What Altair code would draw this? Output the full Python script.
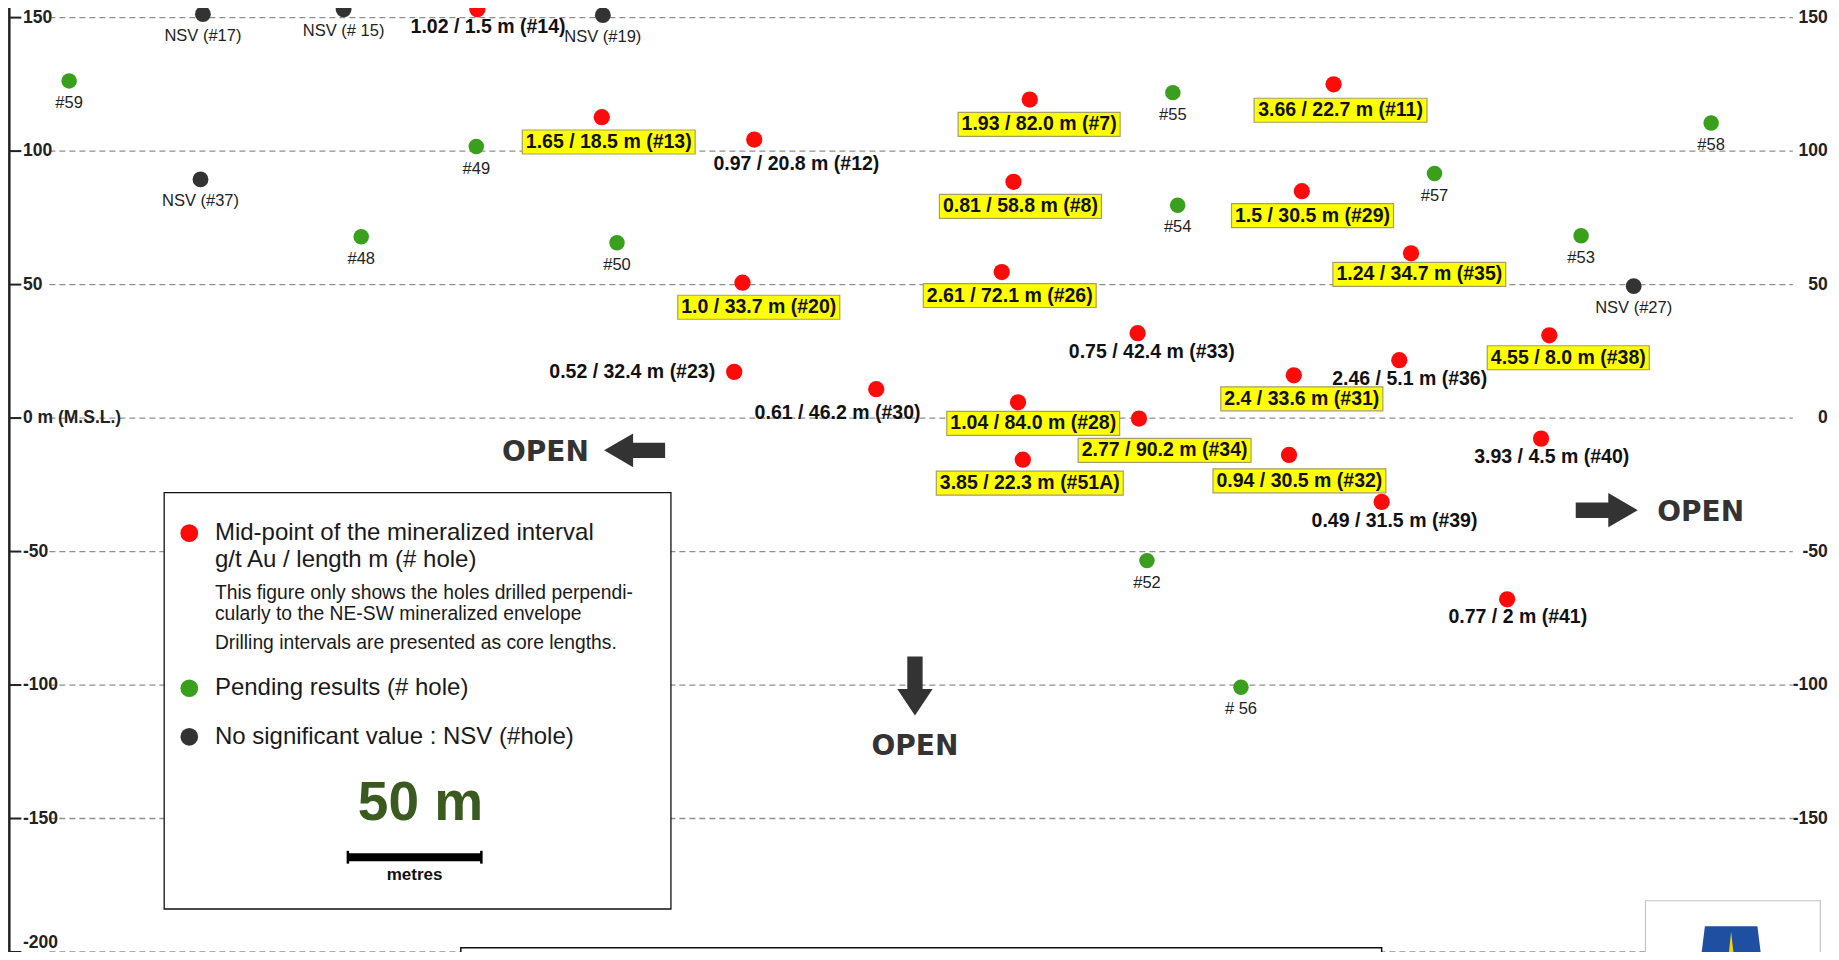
import altair as alt
import pandas as pd

# ---------------- values read from the section ----------------
# x: metres along the section (from the left axis), y: elevation in metres (M.S.L.)

nsv_labels = ["NSV (#17)", "NSV (# 15)", "NSV (#19)", "NSV (#37)", "NSV (#27)"]
nsv_x = [73.0, 125.7, 222.8, 72.1, 608.9]
nsv_y = [151.3, 153.1, 150.9, 89.4, 49.4]

pend_labels = ["#59", "#49", "#48", "#50", "#55", "#54", "#57", "#58", "#53", "#52", "# 56"]
pend_x = [22.9, 175.4, 132.3, 228.1, 436.3, 438.1, 534.3, 637.9, 589.2, 426.6, 461.8]
pend_y = [126.3, 101.7, 67.9, 65.7, 121.9, 79.7, 91.6, 110.5, 68.3, -53.4, -100.8]

min_labels = ["1.02 / 1.5 m (#14)", "1.65 / 18.5 m (#13)", "0.97 / 20.8 m (#12)",
              "1.93 / 82.0 m (#7)", "3.66 / 22.7 m (#11)", "0.81 / 58.8 m (#8)",
              "1.5 / 30.5 m (#29)", "1.0 / 33.7 m (#20)", "2.61 / 72.1 m (#26)",
              "1.24 / 34.7 m (#35)", "0.75 / 42.4 m (#33)", "0.52 / 32.4 m (#23)",
              "0.61 / 46.2 m (#30)", "1.04 / 84.0 m (#28)", "2.77 / 90.2 m (#34)",
              "2.4 / 33.6 m (#31)", "2.46 / 5.1 m (#36)", "4.55 / 8.0 m (#38)",
              "3.85 / 22.3 m (#51A)", "0.94 / 30.5 m (#32)", "3.93 / 4.5 m (#40)",
              "0.49 / 31.5 m (#39)", "0.77 / 2 m (#41)"]
min_x = [175.8, 222.4, 279.5, 382.7, 496.5, 376.6, 484.6, 275.1, 372.2, 525.5, 423.1,
         272.0, 325.2, 378.3, 423.6, 481.6, 521.1, 577.3, 380.1, 479.8, 574.2, 514.5, 561.5]
min_y = [153.1, 112.7, 104.3, 119.3, 125.0, 88.5, 85.0, 50.7, 54.7, 61.7, 31.8,
         17.3, 10.8, 5.9, -0.2, 16.0, 21.7, 31.0, -15.6, -13.8, -7.7, -31.4, -67.9]
lab_x = [179.8, 225.0, 295.3, 386.2, 499.1, 379.2, 488.6, 281.2, 375.2, 528.6, 428.4,
         233.8, 310.7, 384.0, 433.2, 484.6, 525.0, 584.4, 382.7, 483.7, 578.2, 519.3, 565.5]
lab_y = [146.5, 103.4, 95.1, 110.0, 115.3, 79.3, 75.8, 41.5, 45.9, 53.8, 24.8,
         17.3, 2.0, -2.0, -12.1, 7.2, 14.7, 22.6, -24.4, -23.5, -14.7, -38.5, -74.5]
boxed = [False, True, False, True, True, True, True, True, True, True, False,
         False, False, True, True, True, False, True, True, True, False, False, False]

tick_vals = [150, 100, 50, 0, -50, -100, -150, -200]
left_tick_labels = ["150", "100", "50", "0 m (M.S.L.)", "-50", "-100", "-150", "-200"]
right_tick_labels = ["150", "100", "50", "0", "-50", "-100", "-150", "-200"]

legend_lines_big = ["Mid-point of the mineralized interval", "g/t Au / length m (# hole)",
                    "Pending results (# hole)", "No significant value : NSV (#hole)"]
legend_lines_small = ["This figure only shows the holes drilled perpendi-",
                      "cularly to the NE-SW mineralized envelope",
                      "Drilling intervals are presented as core lengths."]
scale_bar_length = 50  # metres

# ---------------- layout ----------------
X_MAX = 682.8
Y_MIN, Y_MAX = -200.0, 153.6
W, H = 1823, 944
PX = W / X_MAX  # pixels per metre

xs = alt.Scale(domain=[0, X_MAX], nice=False, zero=False)
ys = alt.Scale(domain=[Y_MIN, Y_MAX], nice=False, zero=False)


def X(f):
    return alt.X(f, type="quantitative", scale=xs, axis=None)


def Y(f):
    return alt.Y(f, type="quantitative", scale=ys, axis=None)


FONT = "Liberation Sans"
RED, GREEN, DARK = "#ff0a0a", "#3a9f1c", "#333333"

BOLD_W = {c: 0.556 for c in "0123456789#"}
BOLD_W.update({".": 0.278, " ": 0.278, "/": 0.278, "m": 0.889, "(": 0.333, ")": 0.333, "A": 0.722})
LAB_SIZE = 19.5
AX_SIZE = 17.5


def text_w(s, size):
    return sum(BOLD_W.get(c, 0.6) for c in s) * size


layers = []

# grid lines
grid_df = pd.DataFrame({"v": tick_vals, "x0": 15.5, "x1": 668.5})
layers.append(alt.Chart(grid_df).mark_rule(color="#8f8f8f", strokeDash=[6, 4], strokeWidth=1.3)
              .encode(x=X("x0"), x2=alt.X2("x1"), y=Y("v")))

# left axis line + ticks + labels
axis_df = pd.DataFrame({"x": [0.5], "y0": [Y_MIN], "y1": [Y_MAX]})
layers.append(alt.Chart(axis_df).mark_rule(color="#222222", strokeWidth=2.5)
              .encode(x=X("x"), y=Y("y0"), y2=alt.Y2("y1")))
tick_df = pd.DataFrame({"v": tick_vals, "x0": 0.5, "x1": 5.0,
                        "lab": left_tick_labels, "rlab": right_tick_labels,
                        "lx": 5.6, "rx": 681.6})
layers.append(alt.Chart(tick_df).mark_rule(color="#222222", strokeWidth=2)
              .encode(x=X("x0"), x2=alt.X2("x1"), y=Y("v")))
tick_mid = tick_df[tick_df["v"] > Y_MIN]
tick_low = tick_df[tick_df["v"] <= Y_MIN]
for sub, base in ((tick_mid, "middle"), (tick_low, "bottom")):
    layers.append(alt.Chart(sub).mark_text(align="left", baseline=base, font=FONT,
                                           fontWeight="bold", fontSize=AX_SIZE, color="#222222")
                  .encode(x=X("lx"), y=Y("v"), text="lab:N"))
# right-hand labels (the lowest one is hidden behind the logo frame)
layers.append(alt.Chart(tick_mid).mark_text(align="right", baseline="middle", font=FONT,
                                            fontWeight="bold", fontSize=AX_SIZE, color="#222222")
              .encode(x=X("rx"), y=Y("v"), text="rlab:N"))

# bottom title frame and logo frame (cut by the bottom edge)
frame_df = pd.DataFrame({"x0": [169.6], "x1": [514.5], "y0": [-198.4], "y1": [-215.0]})
layers.append(alt.Chart(frame_df).mark_rect(fill="white", stroke="#111111", strokeWidth=1.5, clip=True)
              .encode(x=X("x0"), x2=alt.X2("x1"), y=Y("y0"), y2=alt.Y2("y1")))
logo_df = pd.DataFrame({"x0": [613.3], "x1": [678.8], "y0": [-180.8], "y1": [-215.0],
                        "cx": [645.4], "cy": [-203.5]})
layers.append(alt.Chart(logo_df).mark_rect(fill="white", stroke="#c4c4c4", strokeWidth=1.2, clip=True)
              .encode(x=X("x0"), x2=alt.X2("x1"), y=Y("y0"), y2=alt.Y2("y1")))
layers.append(alt.Chart(logo_df).mark_point(shape="M -0.75 -1 L 0.75 -1 L 1 1 L -1 1 Z", filled=True,
                                            size=4900, color="#1f4fa0", opacity=1, clip=True)
              .encode(x=X("cx"), y=Y("cy")))
layers.append(alt.Chart(logo_df).mark_point(shape="M 0 -0.85 L 0.2 1 L -0.2 1 Z", filled=True,
                                            size=4900, color="#f5d200", opacity=1, clip=True)
              .encode(x=X("cx"), y=Y("cy")))

# legend frame
leg_frame = pd.DataFrame({"x0": [58.5], "x1": [248.3], "y0": [-27.9], "y1": [-183.9]})
layers.append(alt.Chart(leg_frame).mark_rect(fill="white", stroke="#111111", strokeWidth=1.3)
              .encode(x=X("x0"), x2=alt.X2("x1"), y=Y("y0"), y2=alt.Y2("y1")))

leg_marks = pd.DataFrame({"x": [67.9, 67.9, 67.9], "y": [-43.1, -101.2, -119.4],
                          "c": [RED, GREEN, DARK]})
layers.append(alt.Chart(leg_marks).mark_circle(size=314, opacity=1)
              .encode(x=X("x"), y=Y("y"), color=alt.Color("c:N", scale=None)))
leg_big = pd.DataFrame({"t": legend_lines_big, "x": 77.5, "y": [-43.1, -53.2, -101.2, -119.4]})
layers.append(alt.Chart(leg_big).mark_text(align="left", baseline="middle", font=FONT,
                                           fontSize=24, color="#1a1a1a")
              .encode(x=X("x"), y=Y("y"), text="t:N"))
leg_small = pd.DataFrame({"t": legend_lines_small, "x": 77.5, "y": [-65.6, -73.4, -84.4]})
layers.append(alt.Chart(leg_small).mark_text(align="left", baseline="middle", font=FONT,
                                             fontSize=19.3, color="#1a1a1a")
              .encode(x=X("x"), y=Y("y"), text="t:N"))
scale_df = pd.DataFrame({"x": [152.3], "xt": [154.5], "y": [-144.3], "ym": [-171.3], "yb": [-164.5],
                         "t": [f"{scale_bar_length} m"], "m": ["metres"]})
scale_df["x0"] = scale_df["x"] - scale_bar_length / 2
scale_df["x1"] = scale_df["x"] + scale_bar_length / 2
scale_df["yt"] = scale_df["yb"] + 2.4
scale_df["yd"] = scale_df["yb"] - 2.4
layers.append(alt.Chart(scale_df).mark_text(align="center", baseline="middle", font=FONT,
                                            fontWeight="bold", fontSize=55, color="#3b5a1f")
              .encode(x=X("xt"), y=Y("y"), text="t:N"))
layers.append(alt.Chart(scale_df).mark_rule(color="#000000", strokeWidth=8)
              .encode(x=X("x0"), x2=alt.X2("x1"), y=Y("yb")))
layers.append(alt.Chart(scale_df).mark_rule(color="#000000", strokeWidth=2.5)
              .encode(x=X("x0"), y=Y("yt"), y2=alt.Y2("yd")))
layers.append(alt.Chart(scale_df).mark_rule(color="#000000", strokeWidth=2.5)
              .encode(x=X("x1"), y=Y("yt"), y2=alt.Y2("yd")))
layers.append(alt.Chart(scale_df).mark_text(align="center", baseline="middle", font=FONT,
                                            fontWeight="bold", fontSize=17, color="#111111")
              .encode(x=X("x"), y=Y("ym"), text="m:N"))

# OPEN arrows
arrows = [
    ("M -1 0 L -0.05 -0.55 L -0.05 -0.25 L 1 -0.25 L 1 0.25 L -0.05 0.25 L -0.05 0.55 Z", 234.7, -12.1, 3721),
    ("M 1 0 L 0.05 -0.55 L 0.05 -0.25 L -1 -0.25 L -1 0.25 L 0.05 0.25 L 0.05 0.55 Z", 598.8, -34.5, 3844),
    ("M 0 1 L -0.6 0.1 L -0.26 0.1 L -0.26 -1 L 0.26 -1 L 0.26 0.1 L 0.6 0.1 Z", 339.7, -100.4, 3481),
]
for path, ax, ay, sz in arrows:
    layers.append(alt.Chart(pd.DataFrame({"x": [ax], "y": [ay]}))
                  .mark_point(shape=path, filled=True, size=sz, color="#333333", opacity=1, strokeWidth=0)
                  .encode(x=X("x"), y=Y("y")))
open_df = pd.DataFrame({"x": [201.3, 339.7, 634.0], "y": [-13.0, -123.2, -35.4], "t": ["OPEN"] * 3})
layers.append(alt.Chart(open_df).mark_text(align="center", baseline="middle", font="DejaVu Sans",
                                           fontWeight="bold", fontSize=28, color="#333333")
              .encode(x=X("x"), y=Y("y"), text="t:N"))

# mineralized intervals: yellow boxes
min_df = pd.DataFrame({"label": min_labels, "x": min_x, "y": min_y,
                       "lx": lab_x, "ly": lab_y, "boxed": boxed})
half_w = min_df["label"].map(lambda s: text_w(s, LAB_SIZE) / 2 + 3.5) / PX
min_df["bx0"] = min_df["lx"] - half_w
min_df["bx1"] = min_df["lx"] + half_w
min_df["by0"] = min_df["ly"] - 12 / PX
min_df["by1"] = min_df["ly"] + 12 / PX
box_df = min_df[min_df["boxed"]]
layers.append(alt.Chart(box_df).mark_rect(fill="#ffff00", stroke="#a3a06a", strokeWidth=1.2)
              .encode(x=X("bx0"), x2=alt.X2("bx1"), y=Y("by0"), y2=alt.Y2("by1")))

# points
nsv_df = pd.DataFrame({"label": nsv_labels, "x": nsv_x, "y": nsv_y})
pend_df = pd.DataFrame({"label": pend_labels, "x": pend_x, "y": pend_y})
layers.append(alt.Chart(nsv_df).mark_circle(size=250, opacity=1, color=DARK)
              .encode(x=X("x"), y=Y("y")))
layers.append(alt.Chart(pend_df).mark_circle(size=240, opacity=1, color=GREEN)
              .encode(x=X("x"), y=Y("y")))
layers.append(alt.Chart(min_df).mark_circle(size=265, opacity=1, color=RED)
              .encode(x=X("x"), y=Y("y")))

# labels
for df in (nsv_df, pend_df):
    layers.append(alt.Chart(df).mark_text(align="center", baseline="middle", dy=22, font=FONT,
                                          fontSize=16.5, color="#222222")
                  .encode(x=X("x"), y=Y("y"), text="label:N"))
layers.append(alt.Chart(min_df).mark_text(align="center", baseline="middle", font=FONT,
                                          fontWeight="bold", fontSize=LAB_SIZE, color="#111111")
              .encode(x=X("lx"), y=Y("ly"), text="label:N"))

chart = (alt.layer(*layers)
         .properties(width=W, height=H, autosize=alt.AutoSizeParams(type="none"), padding=0,
                     background="white")
         .configure_view(stroke=None))

chart.save("out.html", embed_options={"renderer": "svg", "actions": False})
